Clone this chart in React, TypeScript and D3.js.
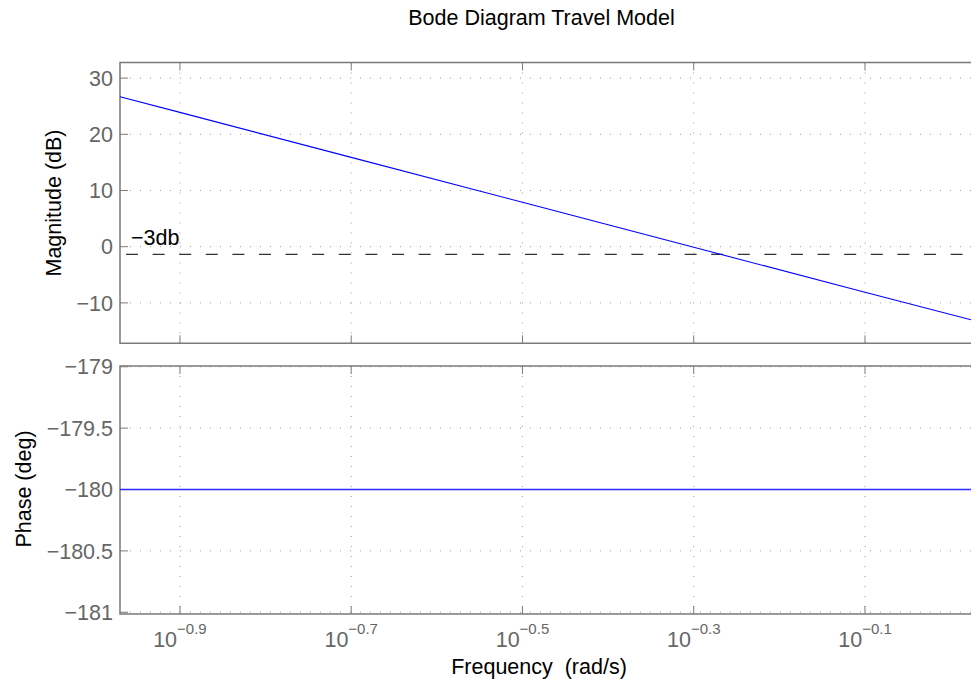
import React from "react";
import * as d3 from "d3";

const freqExp = [-0.97, -0.9, -0.7, -0.5, -0.3, -0.1, 0.0238];
const magnitudeDb = [26.7, 23.9, 15.9, 7.9, -0.1, -8.1, -13.0];
const phaseDeg = [-180, -180, -180, -180, -180, -180, -180];
const xTickExp = [-0.9, -0.7, -0.5, -0.3, -0.1];
const xTickLabels = ["\u22120.9", "\u22120.7", "\u22120.5", "\u22120.3", "\u22120.1"];
const magTicks = [30, 20, 10, 0, -10];
const magTickLabels = ["30", "20", "10", "0", "\u221210"];
const phaseTicks = [-179, -179.5, -180, -180.5, -181];
const phaseTickLabels = ["\u2212179", "\u2212179.5", "\u2212180", "\u2212180.5", "\u2212181"];
const refLevelDb = [-1.35];
const refLabel = "\u22123db";

const W = 971;
const H = 684;
const L = 120;
const R = 971;
const magTop = 62.5;
const magBot = 343.3;
const phTop = 366;
const phBot = 614;
const FONT = "'Liberation Sans', Arial, Helvetica, sans-serif";
const TICK_COLOR = "#666";
const AXIS_COLOR = "#7a7a7a";
const GRID_COLOR = "#999";

export default function App() {
  const x = d3.scaleLog().domain([Math.pow(10, -0.97), Math.pow(10, 0.0238)]).range([L, R]);
  const yMag = d3.scaleLinear().domain([-17.19, 32.78]).range([magBot, magTop]);
  const yPh = d3.scaleLinear().domain([-181.014, -178.994]).range([phBot, phTop]);
  const freqs = freqExp.map((e) => Math.pow(10, e));

  const magLine = d3
    .line<number>()
    .x((_, i) => x(freqs[i]))
    .y((d) => yMag(d));
  const phLine = d3
    .line<number>()
    .x((_, i) => x(freqs[i]))
    .y((d) => yPh(d));

  const panel = (
    top: number,
    bot: number,
    ys: (v: number) => number,
    ticks: number[],
    labels: string[],
    key: string
  ) => (
    <g key={key}>
      {xTickExp.map((e) => (
        <line
          key={"gx" + e}
          x1={x(Math.pow(10, e))}
          x2={x(Math.pow(10, e))}
          y1={top}
          y2={bot}
          stroke={GRID_COLOR}
          strokeWidth={1}
          strokeDasharray="1 9"
        />
      ))}
      {ticks.map((t) => (
        <line
          key={"gy" + t}
          x1={L}
          x2={R}
          y1={ys(t)}
          y2={ys(t)}
          stroke={GRID_COLOR}
          strokeWidth={1}
          strokeDasharray="1 9"
        />
      ))}
      {xTickExp.map((e) => (
        <g key={"tx" + e}>
          <line x1={x(Math.pow(10, e))} x2={x(Math.pow(10, e))} y1={top} y2={top + 8} stroke={AXIS_COLOR} />
          <line x1={x(Math.pow(10, e))} x2={x(Math.pow(10, e))} y1={bot} y2={bot - 8} stroke={AXIS_COLOR} />
        </g>
      ))}
      {ticks.map((t) => (
        <line key={"ty" + t} x1={L} x2={L + 8} y1={ys(t)} y2={ys(t)} stroke={AXIS_COLOR} />
      ))}
      {ticks.map((t, i) => (
        <text
          key={"ly" + t}
          x={113}
          y={ys(t) + 7.7}
          textAnchor="end"
          fontSize={21.5}
          fill={TICK_COLOR}
          fontFamily={FONT}
        >
          {labels[i]}
        </text>
      ))}
      <path
        d={`M${R + 2},${top}H${L}V${bot}H${R + 2}`}
        fill="none"
        stroke={AXIS_COLOR}
        strokeWidth={1.5}
      />
    </g>
  );

  return (
    <svg width={W} height={H} style={{ display: "block", position: "absolute", left: 0, top: 0 }}>
      <rect width={W} height={H} fill="#fff" />
      <text x={541.5} y={25} textAnchor="middle" fontSize={21.5} fontFamily={FONT} fill="#000">
        Bode Diagram Travel Model
      </text>
      {panel(magTop, magBot, yMag, magTicks, magTickLabels, "mag")}
      {panel(phTop, phBot, yPh, phaseTicks, phaseTickLabels, "ph")}

      {refLevelDb.map((v) => (
        <line
          key={"ref" + v}
          x1={L + 5}
          x2={R}
          y1={yMag(v)}
          y2={yMag(v)}
          stroke="#333"
          strokeWidth={1.3}
          strokeDasharray="12 14.6"
          strokeDashoffset={-1}
        />
      ))}
      <text x={131} y={245} fontSize={21.5} fontFamily={FONT} fill="#000">
        {refLabel}
      </text>

      <path d={magLine(magnitudeDb) || ""} fill="none" stroke="#0000ff" strokeWidth={1.1} />
      <path d={phLine(phaseDeg) || ""} fill="none" stroke="#2a2aff" strokeWidth={1.4} />

      {xTickExp.map((e, i) => (
        <text
          key={"xl" + e}
          x={x(Math.pow(10, e))}
          y={646.7}
          textAnchor="middle"
          fontFamily={FONT}
          fill={TICK_COLOR}
        >
          <tspan fontSize={21.5}>10</tspan>
          <tspan fontSize={15} dy={-13}>
            {xTickLabels[i]}
          </tspan>
        </text>
      ))}

      <text
        x={539}
        y={674}
        textAnchor="middle"
        fontSize={21.5}
        fontFamily={FONT}
        fill="#000"
        style={{ whiteSpace: "pre" }}
        xmlSpace="preserve"
      >
        {"Frequency  (rad/s)"}
      </text>
      <text
        transform="translate(61,203) rotate(-90)"
        textAnchor="middle"
        fontSize={21.5}
        fontFamily={FONT}
        fill="#000"
      >
        Magnitude (dB)
      </text>
      <text
        transform="translate(31,489) rotate(-90)"
        textAnchor="middle"
        fontSize={21.5}
        fontFamily={FONT}
        fill="#000"
      >
        Phase (deg)
      </text>
    </svg>
  );
}
